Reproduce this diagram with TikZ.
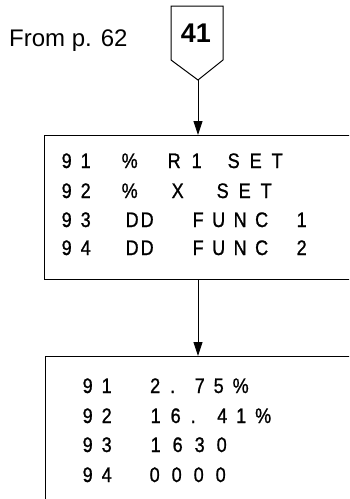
\documentclass[tikz,border=0pt]{standalone}
\usepackage{fontspec}
\setmainfont{Liberation Sans}
\newfontfamily\prtfont[FakeStretch=0.857,FakeBold=1]{Liberation Sans}
\usetikzlibrary{arrows.meta,calc,positioning}
\ExplSyntaxOn
\NewDocumentCommand\spaced{mm}{\tl_map_inline:nn {#2}{##1\kern#1pt}}
\ExplSyntaxOff
\newcommand\putat[2]{\rlap{\hspace*{#1pt}#2}}

\begin{document}
\begin{tikzpicture}[x=1pt,y=-1pt,
  box/.style={draw,line width=1.2pt,anchor=north west,minimum width=420pt,inner sep=0pt},
  prt/.style={anchor=base west,inner sep=0pt,font=\prtfont\fontsize{21}{24}\selectfont},
  flow/.style={-{Triangle[length=14pt,width=9pt]},line width=0.9pt}]
  \clip (0,0) rectangle (349,499);
  \node[anchor=base west,inner sep=0pt,font=\fontsize{24}{28}\selectfont] (from) at (9,46) {From p. 62};
  \node[font=\bfseries\fontsize{27}{30}\selectfont] (tag) at (196,33) {41};
  \draw[line width=1pt] (171,6) -- (223,6) -- (223,60) -- (198,80) coordinate (tip) -- (171,60) -- cycle;
  % first box: settings
  \node[box,minimum height=144pt] (set) at (44,135) {};
  \node[prt] (s1) at (61,168) {\putat{0}{\spaced{9}{91}}\putat{60}{\%}\putat{106}{\spaced{11}{R1}}\putat{166}{\spaced{10}{SET}}};
  \node[prt] (s2) at (61,198) {\putat{0}{\spaced{9}{92}}\putat{60}{\%}\putat{110}{X}\putat{155}{\spaced{10}{SET}}};
  \node[prt] (s3) at (61,227) {\putat{0}{\spaced{9}{93}}\putat{64}{\spaced{2}{DD}}\putat{131}{\spaced{8.5}{FUNC}}\putat{235}{1}};
  \node[prt] (s4) at (61,255) {\putat{0}{\spaced{9}{94}}\putat{64}{\spaced{2}{DD}}\putat{131}{\spaced{8.5}{FUNC}}\putat{235}{2}};
  % second box: results
  \node[box,minimum height=200pt] (res) at (45,356) {};
  \node[prt] (r1) at (82,393) {\putat{0}{\spaced{9}{91}}\putat{67.5}{\spaced{10}{2.}}\putat{112}{\spaced{9}{75\%}}};
  \node[prt] (r2) at (82,423) {\putat{0}{\spaced{9}{92}}\putat{68}{\spaced{10}{16.}}\putat{134.5}{\spaced{9}{41\%}}};
  \node[prt] (r3) at (82,452) {\putat{0}{\spaced{9}{93}}\putat{68}{\spaced{12}{1630}}};
  \node[prt] (r4) at (82,482) {\putat{0}{\spaced{9}{94}}\putat{67}{\spaced{12}{0000}}};
  \draw[flow] (tip) -- (tip |- set.north);
  \draw[flow] (tip |- set.south) -- (tip |- res.north);
\end{tikzpicture}
\end{document}
